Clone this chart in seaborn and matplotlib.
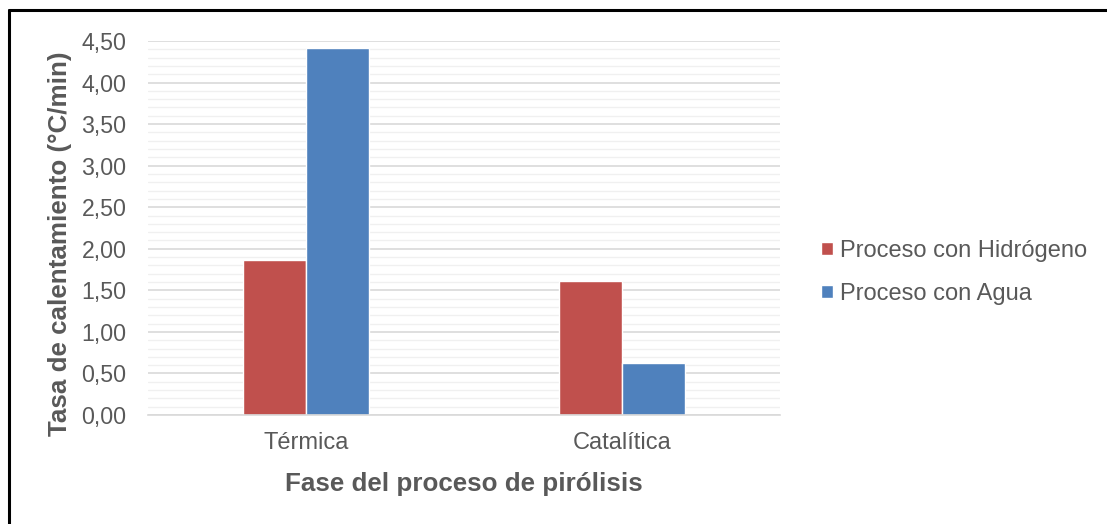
import matplotlib
matplotlib.use("Agg")
import matplotlib.pyplot as plt
import seaborn as sns
import pandas as pd
from matplotlib.lines import Line2D
from matplotlib.ticker import MultipleLocator, FuncFormatter

fases = ["Térmica", "Catalítica"]
procesos = ["Proceso con Hidrógeno", "Proceso con Agua"]
hidrogeno = [1.87, 1.61]
agua = [4.42, 0.63]
colores = ["#C0504D", "#4F81BD"]

df = pd.DataFrame({
    "fase": fases * 2,
    "proceso": [procesos[0]] * 2 + [procesos[1]] * 2,
    "tasa": hidrogeno + agua,
})

sns.set_style("white")
plt.rcParams["font.family"] = ["Liberation Sans", "DejaVu Sans"]
gris = "#595959"

fig = plt.figure(figsize=(11.07, 5.24), dpi=100)
ax = fig.add_axes([0.1337, 0.208, 0.5709, 0.7138])

sns.barplot(
    data=df,
    x="fase",
    y="tasa",
    hue="proceso",
    palette=colores,
    width=0.4,
    saturation=1,
    errorbar=None,
    ax=ax,
)

ax.set_xlim(-0.5, 1.5)
ax.set_ylim(0, 4.5)
ax.yaxis.set_major_locator(MultipleLocator(0.5))
ax.yaxis.set_minor_locator(MultipleLocator(0.1))
ax.yaxis.set_major_formatter(FuncFormatter(lambda v, p: f"{v:.2f}".replace(".", ",")))
ax.grid(axis="y", which="major", color="#d9d9d9", linewidth=1.2)
ax.grid(axis="y", which="minor", color="#f0f0f0", linewidth=1.0)
ax.set_axisbelow(True)
for s in ["top", "right", "left"]:
    ax.spines[s].set_visible(False)
ax.spines["bottom"].set_color("#d9d9d9")
ax.spines["bottom"].set_linewidth(1.2)
ax.tick_params(axis="both", which="both", length=0, labelcolor=gris)
ax.tick_params(axis="y", pad=15.5, labelsize=16.7)
ax.tick_params(axis="x", pad=12, labelsize=17)

ax.set_xlabel("Fase del proceso de pirólisis", fontsize=18.7, fontweight="bold", color=gris)
ax.set_ylabel("Tasa de calentamiento (°C/min)", fontsize=18.7, fontweight="bold", color=gris, va="center")
ax.xaxis.set_label_coords(0.5, -0.152)
ax.yaxis.set_label_coords(-0.139, 0.457)

ax.legend(
    loc="center left",
    bbox_to_anchor=(0.7415, 0.480),
    bbox_transform=fig.transFigure,
    frameon=False,
    fontsize=17,
    labelcolor=gris,
    handlelength=0.51,
    handleheight=0.5,
    handletextpad=0.3,
    labelspacing=0.9,
    borderpad=0,
    borderaxespad=0,
)

# marco de la figura (solo izquierda y arriba visibles)
fig.add_artist(Line2D([0.0077, 0.0077], [0, 0.980], color="black", linewidth=2.2, transform=fig.transFigure))
fig.add_artist(Line2D([0.0077, 1.0], [0.980, 0.980], color="black", linewidth=2.2, transform=fig.transFigure))

fig.savefig("out.png", dpi=100)
